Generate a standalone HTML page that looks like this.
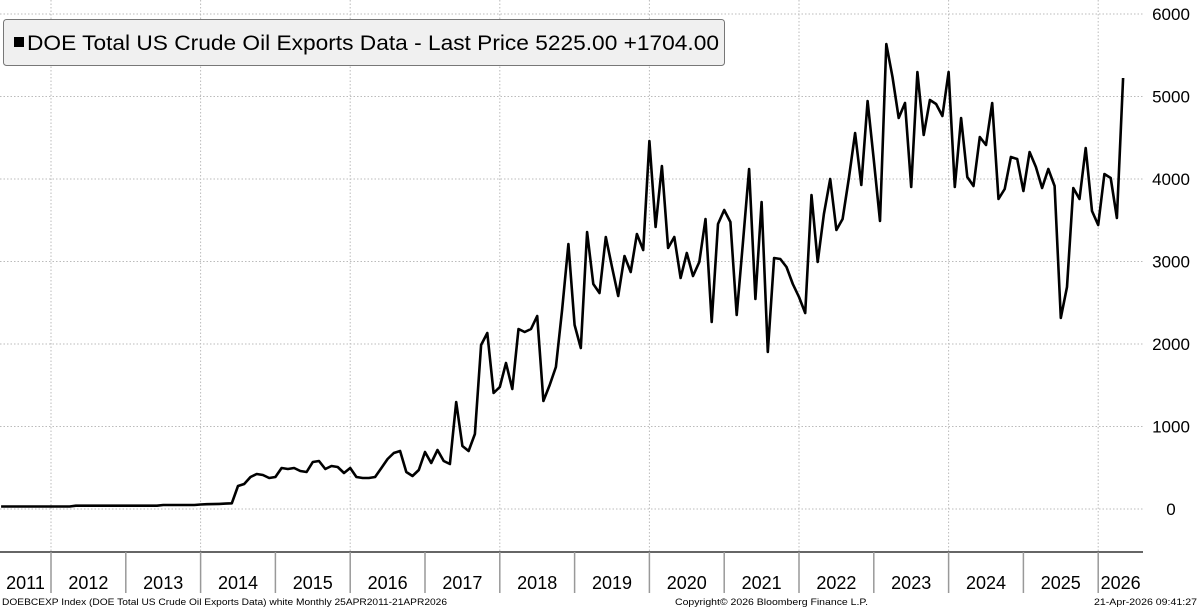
<!DOCTYPE html>
<html><head><meta charset="utf-8"><style>
html,body{margin:0;padding:0;background:#fff;}
body{width:1200px;height:608px;overflow:hidden;position:relative;font-family:"Liberation Sans",sans-serif;}
svg{position:absolute;left:0;top:0;}
</style></head><body>
<svg id="chart" width="1200" height="608" viewBox="0 0 1200 608"></svg>
<script>
const values=[30,30,30,30,30,30,30,30,30,30,30,30,
40,40,40,40,40,40,40,40,40,40,40,40,40,40,
48,48,48,48,48,48,55,58,60,62,65,69,
279,303,388,424,412,376,388,497,485,497,461,448,570,582,485,521,509,436,497,388,376,376,388,497,606,679,703,448,400,473,691,558,715,582,545,1297,764,703,909,1988,2133,1406,1479,1770,1455,2182,2145,2182,2339,1309,1503,1721,2412,3212,2230,1952,3358,2727,2618,3297,2933,2582,3067,2873,3333,3139,4461,3418,4158,3164,3297,2800,3103,2824,2994,3515,2267,3455,3624,3479,2352,3224,4121,2545,3721,1903,3042,3030,2933,2727,2570,2376,3806,2994,3576,4000,3382,3515,4012,4558,3927,4945,4230,3491,5636,5236,4739,4921,3903,5297,4533,4958,4909,4764,5297,3903,4739,4024,3915,4509,4412,4921,3758,3879,4267,4242,3855,4327,4145,3891,4121,3915,2315,2691,3891,3758,4376,3612,3442,4061,4012,3527,5224];
const yTicks=[0,1000,2000,3000,4000,5000,6000];
const years=[2011,2012,2013,2014,2015,2016,2017,2018,2019,2020,2021,2022,2023,2024,2025,2026];
const startYear=2011.3333;
const NS="http://www.w3.org/2000/svg";
const svg=document.getElementById('chart');
const plotR=1143, axisY=552;
function yS(v){return 509-v*0.0825;}
function xT(t){return 51+(t-2012)*74.8;}
function xI(i){return xT(startYear+i/12);}
function mk(tag,attrs,parent){const e=document.createElementNS(NS,tag);for(const k in attrs)e.setAttribute(k,attrs[k]);(parent||svg).appendChild(e);return e;}
yTicks.forEach(v=>{
  const g=mk('line',{x1:0,x2:plotR,y1:yS(v),y2:yS(v),stroke:'#bbb','stroke-width':1,'stroke-dasharray':'1.5,2'});
  
  
  const t=mk('text',{x:1171,y:yS(v)+6,'font-size':17,'text-anchor':'middle',fill:'#000','font-family':'Liberation Sans, sans-serif'});
  t.textContent=v;
  
  
});
for(let y=2012;y<=2026;y+=2){
  const g=mk('line',{x1:xT(y),x2:xT(y),y1:0,y2:axisY,stroke:'#bbb','stroke-width':1,'stroke-dasharray':'1.5,2'});
  
  
}
const ax=mk('line',{x1:0,x2:plotR,y1:axisY,y2:axisY,stroke:'#666','stroke-width':2});


years.forEach((y,i)=>{
  if(y>2011){
    const tk=mk('line',{x1:xT(y),x2:xT(y),y1:axisY,y2:593,stroke:'#999','stroke-width':1.5});
    
    
  }
  const left=Math.max(0,xT(y)), right=Math.min(xT(y+1),plotR);
  const t=mk('text',{x:(left+right)/2,y:589,'font-size':18,'text-anchor':'middle',fill:'#000','font-family':'Liberation Sans, sans-serif'});
  t.textContent=y;
  
  
});
const pts=values.map((v,i)=>xI(i).toFixed(1)+','+yS(v).toFixed(1)).join(' ');
const pl=mk('polyline',{points:pts,fill:'none',stroke:'#000','stroke-width':2.6,'stroke-linejoin':'round'});


const lg=mk('g',{});


mk('rect',{x:3.5,y:19.5,width:721,height:46,rx:3,fill:'#f0f0f0',stroke:'#777','stroke-width':1},lg);
mk('rect',{x:14,y:37,width:10,height:10,fill:'#000'},lg);
const lt=mk('text',{x:27,y:50,'font-size':21,fill:'#000','font-family':'Liberation Sans, sans-serif',textLength:692,lengthAdjust:'spacingAndGlyphs'},lg);
lt.textContent='DOE Total US Crude Oil Exports Data - Last Price 5225.00 +1704.00';


const f1=mk('text',{x:2,y:605,'font-size':9.5,fill:'#000','font-family':'Liberation Sans, sans-serif',textLength:445,lengthAdjust:'spacingAndGlyphs'});
f1.textContent='DOEBCEXP Index (DOE Total US Crude Oil Exports Data) white Monthly 25APR2011-21APR2026';


const f2=mk('text',{x:675,y:605,'font-size':9.5,fill:'#000','font-family':'Liberation Sans, sans-serif',textLength:193,lengthAdjust:'spacingAndGlyphs'});
f2.textContent='Copyright© 2026 Bloomberg Finance L.P.';


const f3=mk('text',{x:1197,y:605,'font-size':9.5,'text-anchor':'end',fill:'#000','font-family':'Liberation Sans, sans-serif',textLength:103,lengthAdjust:'spacingAndGlyphs'});
f3.textContent='21-Apr-2026 09:41:27';


</script>
</body></html>
